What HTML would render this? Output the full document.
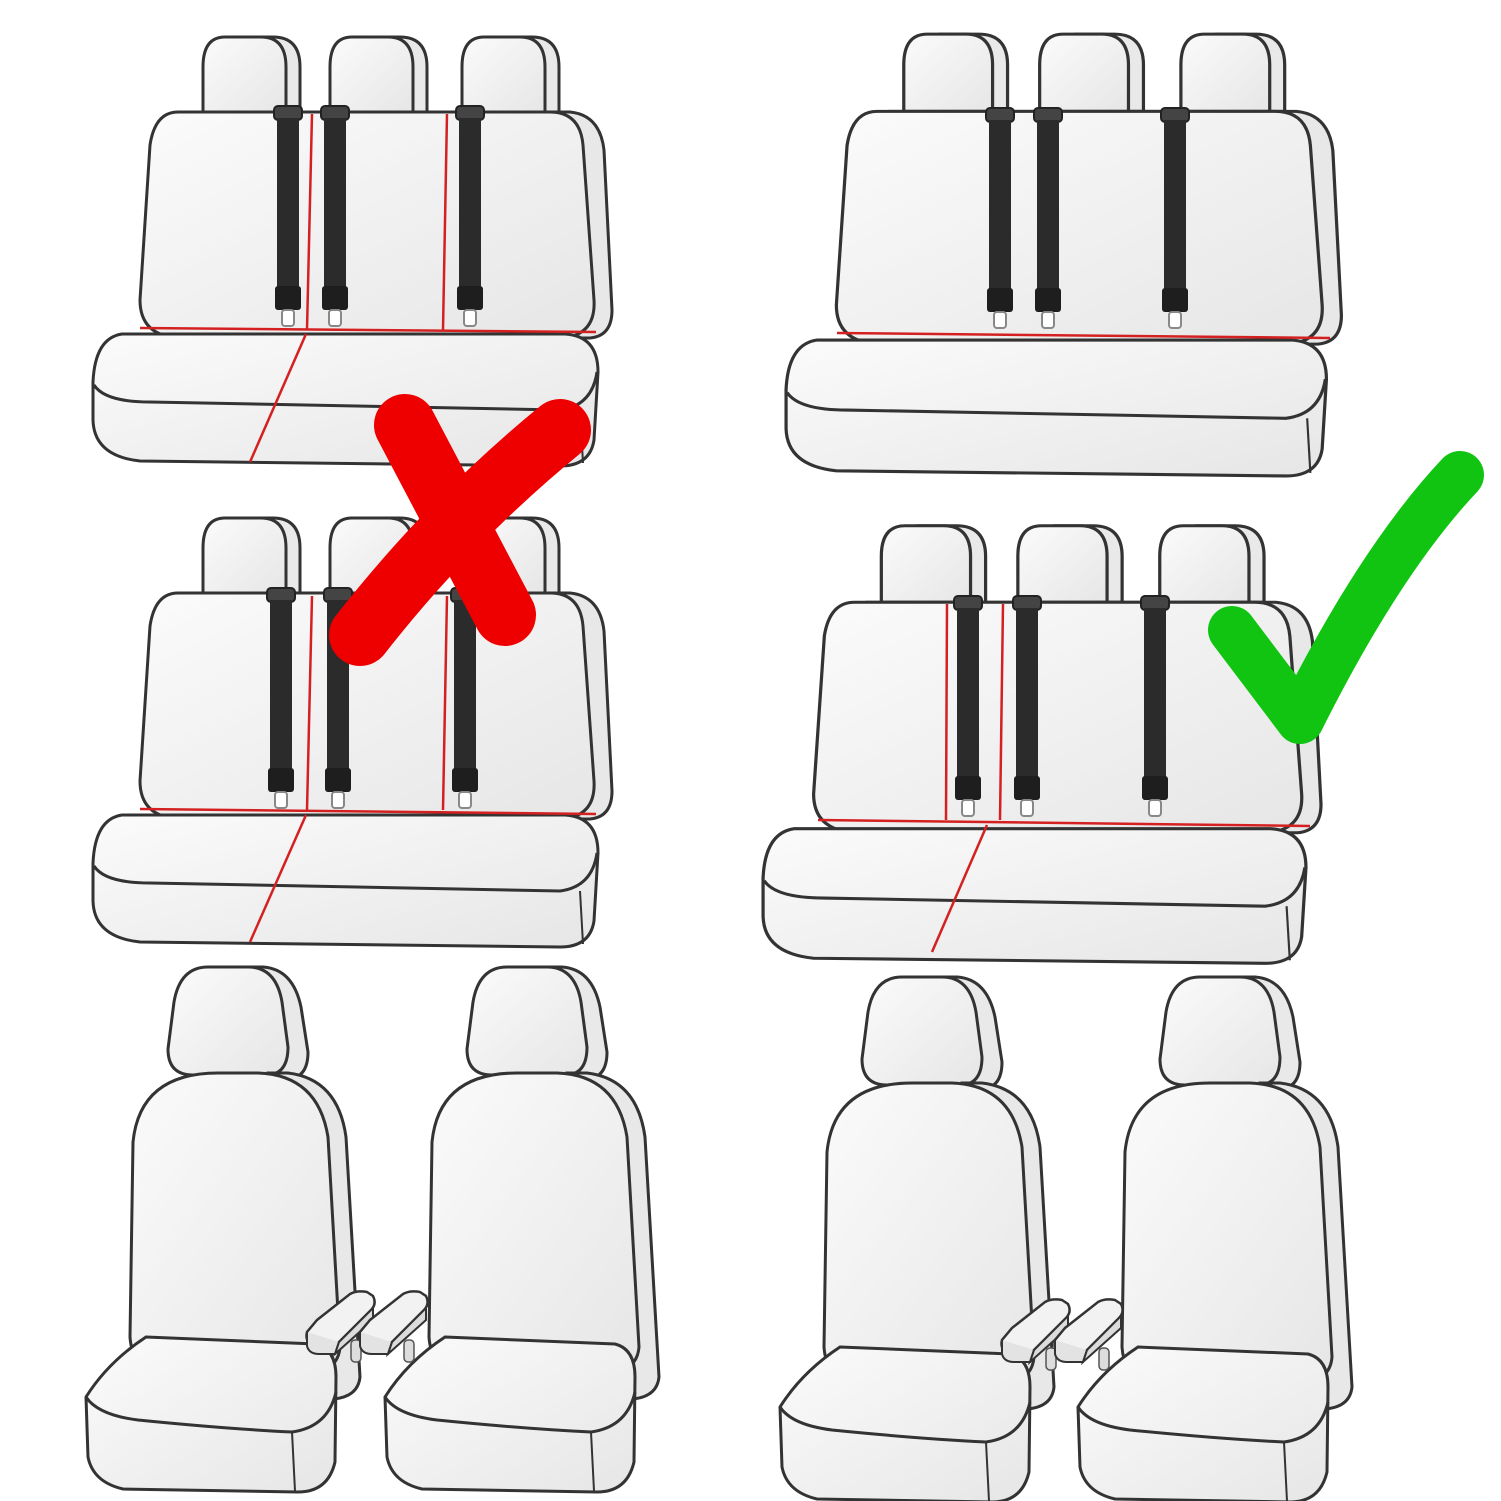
<!DOCTYPE html>
<html><head><meta charset="utf-8"><style>html,body{margin:0;padding:0;background:#fff}svg{display:block}</style></head>
<body>
<svg width="1501" height="1501" viewBox="0 0 1501 1501" xmlns="http://www.w3.org/2000/svg">
<defs>
<linearGradient id="g" x1="0" y1="0" x2="1" y2="1"><stop offset="0" stop-color="#fbfbfb"/><stop offset="1" stop-color="#e6e6e6"/></linearGradient>
<g id="hr">
<path d="M35,0 H70 Q97,0 97,30 V75 H15 V30 Q15,0 35,0 Z" fill="#e9e9e9" stroke="#333" stroke-width="3"/>
<path d="M22,0 H58 Q83,0 83,30 V75 H0 V30 Q0,0 22,0 Z" fill="url(#g)" stroke="#333" stroke-width="3"/>
</g>
<g id="bench">
<use href="#hr" x="203" y="37"/><use href="#hr" x="330" y="37"/><use href="#hr" x="462" y="37"/>
<path d="M190,112 H570 Q600,115 604,150 L612,310 Q612,336 590,338 H210 Z" fill="#e8e8e8" stroke="#333" stroke-width="3"/>
<path d="M178,112 H550 Q580,112 583,145 L594,300 Q596,335 562,338 H178 Q140,335 140,300 L150,145 Q155,112 178,112 Z" fill="url(#g)" stroke="#333" stroke-width="3"/>
<path d="M122,334 H565 Q598,336 598,372 L594,440 Q590,466 560,466 L140,461 Q94,456 93,420 L93,382 Q95,338 122,334 Z" fill="url(#g)" stroke="#333" stroke-width="3"/>
<path d="M94,385 Q105,402 150,402 L560,410 Q592,406 597,372" fill="none" stroke="#333" stroke-width="3"/>
<path d="M580,410 L583,463" fill="none" stroke="#333" stroke-width="2"/>
</g>
<g id="belt">
<rect x="-14" y="-4" width="28" height="14" rx="4" fill="#444" stroke="#222" stroke-width="2"/>
<rect x="-11" y="8" width="22" height="170" fill="#2b2b2b"/>
<rect x="-13" y="176" width="26" height="24" rx="3" fill="#1e1e1e"/>
<rect x="-6" y="200" width="12" height="16" rx="3" fill="#fff" stroke="#888" stroke-width="2"/>
</g>
<g id="front">
<path d="M50,0 H95 Q125,2 133,40 L140,85 Q140,112 118,112 H50 Z" fill="#e9e9e9" stroke="#333" stroke-width="3"/>
<path d="M40,0 H80 Q108,0 114,35 L120,80 Q120,108 98,108 H25 Q0,108 0,82 L6,35 Q12,0 40,0 Z" fill="url(#g)" stroke="#333" stroke-width="3"/>
<path d="M100,106 H120 Q170,112 178,170 L192,410 Q190,430 165,432 L120,432 Z" fill="#e8e8e8" stroke="#333" stroke-width="3"/>
<path d="M50,106 H90 Q150,108 160,170 L172,380 Q170,405 140,405 H-10 Q-36,400 -38,370 L-35,175 Q-28,106 50,106 Z" fill="url(#g)" stroke="#333" stroke-width="3"/>
<path d="M-22,370 L148,377 Q168,382 168,410 L167,495 Q160,525 130,525 L-45,522 Q-75,515 -80,490 L-82,430 Q-60,395 -22,370 Z" fill="url(#g)" stroke="#333" stroke-width="3"/>
<path d="M-82,430 Q-70,448 -30,453 Q60,462 124,465 Q160,460 168,425" fill="none" stroke="#333" stroke-width="3"/>
<path d="M124,465 L127,524" stroke="#333" stroke-width="2"/>
</g>
<g id="arm">
<path d="M12,30 L45,4 Q52,0 62,2 L68,6 Q72,14 66,20 L34,52 Q28,56 18,56 L6,55 Q0,50 2,42 Z" fill="#f2f2f2" stroke="#333" stroke-width="2.5"/>
<path d="M2,42 L2,56 Q4,64 14,64 L30,64 L34,52" fill="#e3e3e3" stroke="#333" stroke-width="2"/>
<path d="M34,52 L68,18 V30 L30,64 Z" fill="#dcdcdc" stroke="#333" stroke-width="2"/>
<rect x="46" y="50" width="10" height="22" rx="4" fill="#ddd" stroke="#555" stroke-width="1.5"/>
</g>
</defs>

<use href="#bench"/>
<g stroke="#d42020" stroke-width="2.5" fill="none">
<path d="M312,114 L307,330"/><path d="M447,114 L443,330"/><path d="M140,328 L596,332"/><path d="M306,334 L250,462"/>
</g>
<use href="#belt" x="288" y="110"/><use href="#belt" x="335" y="110"/><use href="#belt" x="470" y="110"/>

<g transform="translate(785,-4) scale(1.07,1.03) translate(-92,0)"><use href="#bench"/></g>
<path d="M837,333 L1330,338" stroke="#d42020" stroke-width="2.5"/>
<use href="#belt" x="1000" y="112"/><use href="#belt" x="1048" y="112"/><use href="#belt" x="1175" y="112"/>

<g transform="translate(0,481)"><use href="#bench"/></g>
<g stroke="#d42020" stroke-width="2.5" fill="none">
<path d="M312,596 L307,810"/><path d="M447,596 L443,810"/><path d="M140,809 L596,814"/><path d="M306,815 L250,942"/>
</g>
<use href="#belt" x="281" y="592"/><use href="#belt" x="338" y="592"/><use href="#belt" x="465" y="592"/>

<g transform="translate(762,488) scale(1.075,1.02) translate(-92,0)"><use href="#bench"/></g>
<g stroke="#d42020" stroke-width="2.5" fill="none">
<path d="M947,604 L946,820"/><path d="M1003,604 L1000,820"/><path d="M818,820 L1310,826"/><path d="M987,825 L932,952"/>
</g>
<use href="#belt" x="968" y="600"/><use href="#belt" x="1027" y="600"/><use href="#belt" x="1155" y="600"/>

<g stroke="#ee0000" stroke-width="62" stroke-linecap="round" fill="none">
<path d="M405,425 L505,615"/><path d="M560,430 Q450,520 360,635"/>
</g>
<path d="M1232,630 L1300,720 Q1380,560 1460,475" stroke="#11c411" stroke-width="48" stroke-linecap="round" stroke-linejoin="round" fill="none"/>

<use href="#front" x="168" y="967"/>
<use href="#front" x="467" y="967"/>
<use href="#arm" x="305" y="1290"/><use href="#arm" x="358" y="1290"/>
<use href="#front" x="862" y="977"/>
<use href="#front" x="1160" y="977"/>
<use href="#arm" x="1000" y="1298"/><use href="#arm" x="1053" y="1298"/>
</svg>
</body></html>
